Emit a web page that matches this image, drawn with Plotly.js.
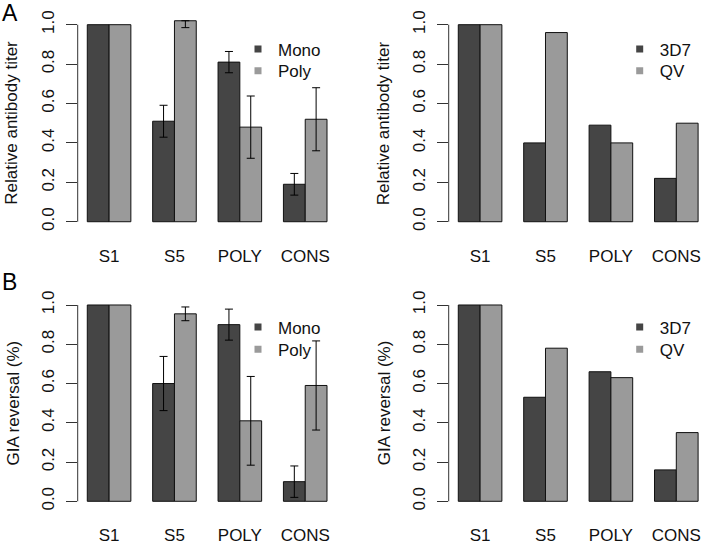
<!DOCTYPE html>
<html><head><meta charset="utf-8">
<script src="https://cdn.plot.ly/plotly-3.0.1.min.js"></script>
<style>html,body{margin:0;padding:0;background:#fff}</style>
</head><body><div id="chart" style="width:702px;height:544px"></div>
<script>
const categories = ['S1', 'S5', 'POLY', 'CONS'];
const yTicks = [0, 0.2, 0.4, 0.6, 0.8, 1.0];

// Panel A left: relative antibody titer, Mono vs Poly
const titerMono = [1, 0.51, 0.81, 0.19];
const titerMonoErr = [null, 0.081, 0.054, 0.055];
const titerPoly = [1, 1.02, 0.48, 0.52];
const titerPolyErrPlus = [null, 0, 0.158, 0.16];
const titerPolyErrMinus = [null, 0.035, 0.158, 0.16];
// Panel A right: 3D7 vs QV
const titer3D7 = [1, 0.40, 0.49, 0.22];
const titerQV = [1, 0.96, 0.40, 0.50];
// Panel B left: GIA reversal, Mono vs Poly
const giaMono = [1, 0.60, 0.90, 0.10];
const giaMonoErr = [null, 0.138, 0.079, 0.08];
const giaPoly = [1, 0.955, 0.41, 0.59];
const giaPolyErr = [null, 0.035, 0.226, 0.227];
// Panel B right: 3D7 vs QV
const gia3D7 = [1, 0.53, 0.66, 0.16];
const giaQV = [1, 0.78, 0.63, 0.35];

const DARK = '#454545', LIGHT = '#9a9a9a';
const FONT = 'Liberation Sans, Arial, Helvetica, sans-serif';
const W = 702, H = 544;
const px = v => v / W, py = v => 1 - v / H;
const nanify = a => a.map(v => (v === null ? NaN : v));

function bar(y, color, xa, ya, err) {
  const t = {type: 'bar', x: categories, y: y, xaxis: xa, yaxis: ya, showlegend: false,
    marker: {color: color, line: {color: '#111', width: 1}}, hoverinfo: 'y'};
  if (err) {
    const e = {type: 'data', color: '#000', thickness: 1, width: 4, symmetric: err.symmetric,
      array: nanify(err.array)};
    if (err.arrayminus) e.arrayminus = nanify(err.arrayminus);
    t.error_y = e;
  }
  return t;
}
function legendItem(name, color, leg) {
  return {type: 'scatter', mode: 'markers', x: [null], y: [null], name: name, legend: leg,
    marker: {symbol: 'square', size: 7, color: color, line: {width: 0}}, hoverinfo: 'skip'};
}

const data = [
  bar(titerMono, DARK, 'x', 'y', {array: titerMonoErr, symmetric: true}),
  bar(titerPoly, LIGHT, 'x', 'y', {array: titerPolyErrPlus, arrayminus: titerPolyErrMinus, symmetric: false}),
  bar(titer3D7, DARK, 'x2', 'y2'),
  bar(titerQV, LIGHT, 'x2', 'y2'),
  bar(giaMono, DARK, 'x3', 'y3', {array: giaMonoErr, symmetric: true}),
  bar(giaPoly, LIGHT, 'x3', 'y3', {array: giaPolyErr, symmetric: true}),
  bar(gia3D7, DARK, 'x4', 'y4'),
  bar(giaQV, LIGHT, 'x4', 'y4'),
  legendItem('Mono', DARK, 'legend'), legendItem('Poly', LIGHT, 'legend2'),
  legendItem('3D7', DARK, 'legend3'), legendItem('QV', LIGHT, 'legend4'),
  legendItem('Mono', DARK, 'legend5'), legendItem('Poly', LIGHT, 'legend6'),
  legendItem('3D7', DARK, 'legend7'), legendItem('QV', LIGHT, 'legend8')
];

const leftDom = [px(77.7), px(336.6)];
const rightDom = [px(448.7), 1];
const topDom = [py(229.6), py(16.8)];
const botDom = [py(509.15), py(297.15)];

function xaxis(dom, anchor, right) {
  return {domain: dom, anchor: anchor, type: 'category',
    range: [-0.48, right ? 3.393 : 3.48], showgrid: false, zeroline: false, showline: false,
    ticks: '', ticklabelstandoff: 14, tickfont: {size: 17, color: '#111', family: FONT}, fixedrange: true};
}
function yaxis(dom, anchor) {
  return {domain: dom, anchor: anchor, range: [-0.04, 1.04], showgrid: false, zeroline: false,
    showline: false, tickvals: yTicks, tickformat: '.1f', tickangle: -90,
    ticks: 'outside', ticklen: 11, tickwidth: 1, tickcolor: '#333', ticklabelstandoff: 5,
    tickfont: {size: 17, color: '#111', family: FONT}, fixedrange: true};
}
function axisLine(xa, ya) {
  return {type: 'line', xref: xa + ' domain', yref: ya, x0: 0, x1: 0, y0: 0, y1: 1,
    line: {color: '#333', width: 1}};
}
// legend placed so that its single entry is centred at pixel (cx of symbol ~ x+20, cy)
function legendBox(leftPx, centerY) {
  return {x: px(leftPx), y: py(centerY - 17.5), xanchor: 'left', yanchor: 'top', bgcolor: 'rgba(0,0,0,0)',
    font: {size: 17, color: '#111', family: FONT}, tracegroupgap: 0, itemwidth: 30};
}
function ytitle(text, x, y) {
  return {text: text, xref: 'paper', yref: 'paper', x: px(x), y: py(y), showarrow: false,
    textangle: -90, xanchor: 'center', yanchor: 'middle', font: {size: 17, color: '#111', family: FONT}};
}
function panelLabel(text, x, y) {
  return {text: text, xref: 'paper', yref: 'paper', x: px(x), y: py(y), showarrow: false,
    xanchor: 'center', yanchor: 'middle', font: {size: 23, color: '#000', family: FONT}};
}

const LL = 238, LR = 619.7;
const layout = {
  width: W, height: H, margin: {l: 0, r: 0, t: 0, b: 0},
  paper_bgcolor: '#fff', plot_bgcolor: 'rgba(0,0,0,0)',
  font: {family: FONT, color: '#111'},
  barmode: 'group', bargap: 1 / 3, bargroupgap: 0,
  xaxis: xaxis(leftDom, 'y', false), yaxis: yaxis(topDom, 'x'),
  xaxis2: xaxis(rightDom, 'y2', true), yaxis2: yaxis(topDom, 'x2'),
  xaxis3: xaxis(leftDom, 'y3', false), yaxis3: yaxis(botDom, 'x3'),
  xaxis4: xaxis(rightDom, 'y4', true), yaxis4: yaxis(botDom, 'x4'),
  legend: legendBox(LL, 49), legend2: legendBox(LL, 70.7),
  legend3: legendBox(LR, 49), legend4: legendBox(LR, 70.7),
  legend5: legendBox(LL, 327), legend6: legendBox(LL, 349.3),
  legend7: legendBox(LR, 327), legend8: legendBox(LR, 349.3),
  shapes: [axisLine('x', 'y'), axisLine('x2', 'y2'), axisLine('x3', 'y3'), axisLine('x4', 'y4')],
  annotations: [
    ytitle('Relative antibody titer', 11.7, 123), ytitle('Relative antibody titer', 384.3, 123),
    ytitle('GIA reversal (%)', 12.5, 403), ytitle('GIA reversal (%)', 384.3, 403),
    panelLabel('A', 10, 13.4), panelLabel('B', 9, 281.7)
  ]
};

Plotly.newPlot('chart', data, layout, {displayModeBar: false, staticPlot: true});
</script></body></html>
